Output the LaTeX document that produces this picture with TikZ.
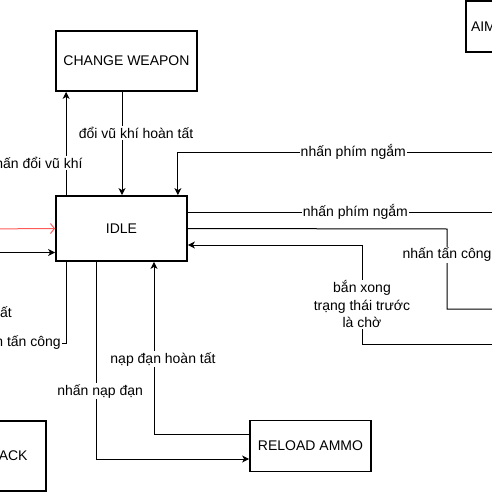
\documentclass[tikz,border=0pt]{standalone}
\usepackage{fontspec}
\setmainfont{Liberation Sans}
\usetikzlibrary{arrows.meta,positioning}

\definecolor{lightred}{RGB}{255,90,90}

\tikzset{
    state/.style={draw, line width=1.8pt, fill=white, font=\fontsize{14}{17}\selectfont},
    edge/.style={line width=1pt, -{Stealth[length=7pt,width=7pt,inset=2pt]}},
    lbl/.style={fill=white, inner sep=1pt, font=\fontsize{14}{17.5}\selectfont, align=center}
}

\begin{document}
\begin{tikzpicture}[x=1pt,y=-1pt]
    \useasboundingbox (0,0) rectangle (492,492);
    \clip (0,0) rectangle (492,492);

    % states
    \node[state, minimum width=141pt, minimum height=60pt] (change) at (126.5,61) {CHANGE WEAPON};
    \node[state, minimum width=131pt, minimum height=65pt] (idle) at (121.5,228.5) {IDLE};
    \node[state, minimum width=121pt, minimum height=51pt] (reload) at (310.5,446) {RELOAD AMMO};
    \node[state, minimum width=121pt, minimum height=51pt, text width=111pt, align=left] (aim) at (526.5,26.5) {AIM};
    \node[state, minimum width=90pt, minimum height=70pt] (attack) at (1,456) {ATTACK};

    % free ends outside the frame
    \coordinate (aimOut) at (510,152);
    \coordinate (aimIn) at (510,212);
    \coordinate (atkIn) at (510,309);
    \coordinate (atkBack) at (510,344);
    \coordinate (leftRed) at (-20,229);
    \coordinate (leftBlk) at (-20,252.5);
    \coordinate (leftAtk) at (-60,343);

    % weapon change
    \draw[edge] ([xshift=11pt]idle.north west) -- ([xshift=11pt]idle.north west |- change.south)
        node[lbl, pos=0.31, xshift=-31pt] {nhấn đổi vũ khí};
    \draw[edge] ([xshift=-4.5pt]change.south) -- ([xshift=-4.5pt]change.south |- idle.north)
        node[lbl, pos=0.4, xshift=14pt] {đổi vũ khí hoàn tất};

    % aim
    \draw[edge] (aimOut) -| ([xshift=-10pt]idle.north east)
        node[lbl, pos=0.236] {nhấn phím ngắm};
    \draw[edge] ([yshift=16.5pt]idle.east) -- (aimIn)
        node[lbl, pos=0.52] {nhấn phím ngắm};

    % attack
    \draw[edge] (idle.east) -- (447,229) -- node[lbl, pos=0.325] {nhấn tấn công} (447,309) -- (atkIn);
    \draw[edge] (atkBack) -- (362,344) -- node[lbl, pos=0.4] {bắn xong\\trạng thái trước\\là chờ} (362,245)
        -- ([yshift=-16.5pt]idle.east);
    \draw[line width=1pt, lightred, -{Straight Barb[length=4pt,width=10pt]}] (leftRed) -- (idle.west);
    \draw[edge] (leftBlk) -- ([yshift=-24pt]idle.west);
    \node[lbl, anchor=west, inner sep=0pt] (atkDone) at (0,312) {ất};
    \draw[edge] ([xshift=11pt]idle.south west) |- (leftAtk)
        node[lbl, pos=0.697] {nhấn tấn công};

    % reload
    \draw[edge] ([xshift=41pt]idle.south west) |- ([yshift=-13pt]reload.west)
        node[lbl, pos=0.328, xshift=4pt] {nhấn nạp đạn};
    \draw[edge] ([yshift=12pt]reload.west) -| ([xshift=32.5pt]idle.south)
        node[lbl, pos=0.717, xshift=9pt] {nạp đạn hoàn tất};
\end{tikzpicture}
\end{document}
